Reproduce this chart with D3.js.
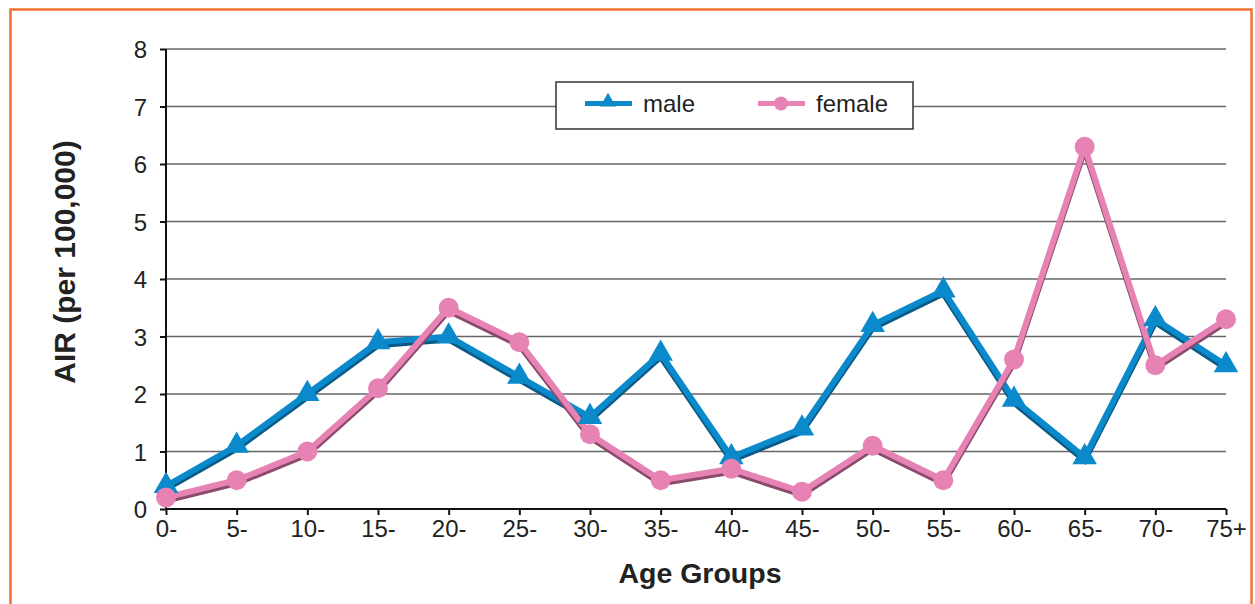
<!DOCTYPE html>
<html><head><meta charset="utf-8">
<script src="https://cdn.jsdelivr.net/npm/d3@7"></script>
<style>body{margin:0;background:#fff;}svg{display:block;font-family:"Liberation Sans",Arial,sans-serif;}</style>
</head><body><svg id="c" width="1255" height="604"></svg>
<script>
const categories = ["0-","5-","10-","15-","20-","25-","30-","35-","40-","45-","50-","55-","60-","65-","70-","75+"];
const male = [0.4,1.1,2.0,2.9,3.0,2.3,1.6,2.7,0.9,1.4,3.2,3.8,1.9,0.9,3.3,2.5];
const female = [0.2,0.5,1.0,2.1,3.5,2.9,1.3,0.5,0.7,0.3,1.1,0.5,2.6,6.3,2.5,3.3];
const yTicks = [0,1,2,3,4,5,6,7,8];
const seriesNames = ["male","female"];

const svg = d3.select("#c");
// frame
svg.append("rect").attr("x",10.5).attr("y",9.5).attr("width",1241).attr("height",620)
  .attr("fill","none").attr("stroke","#f07030").attr("stroke-width",2.5);

const m = {l:166, r:1226, t:49, b:509};
const x = d3.scalePoint().domain(categories).range([m.l, m.r]);
const y = d3.scaleLinear().domain([0,8]).range([m.b, m.t]);

// grid
svg.append("g").selectAll("line").data(yTicks.filter(d=>d>0)).join("line")
  .attr("x1",m.l).attr("x2",m.r).attr("y1",d=>y(d)).attr("y2",d=>y(d))
  .attr("stroke","#666").attr("stroke-width",1.3);

// axes
const ya = svg.append("g").attr("transform",`translate(${m.l},0)`)
  .call(d3.axisLeft(y).tickValues(yTicks).tickFormat(d3.format("d")).tickSize(6).tickPadding(13));
const xa = svg.append("g").attr("transform",`translate(0,${m.b})`)
  .call(d3.axisBottom(x).tickSize(6).tickPadding(5));
[ya,xa].forEach(a=>{
  a.attr("font-size",null).attr("font-family",null);
  a.selectAll(".domain").attr("stroke","#111").attr("stroke-width",2);
  a.selectAll(".tick line").attr("stroke","#111").attr("stroke-width",2);
  a.selectAll("text").style("font-size","24px").attr("fill","#222").style("font-family","Liberation Sans, Arial, sans-serif");
});
ya.selectAll("text").attr("dy","0.36em");
xa.select(".domain").attr("d",`M${m.l},0H${m.r}`);
ya.select(".domain").attr("d",`M0,${m.b}V${m.t}`);

const line = d3.line().x((d,i)=>x(categories[i])).y(d=>y(d));
const defs = [
  {data:male, color:"#0a8acb", shadow:"#0b5a85"},
  {data:female, color:"#e783b4", shadow:"#8a4a6c"}
];
defs.forEach(s=>{
  svg.append("path").datum(s.data).attr("d",line).attr("fill","none")
    .attr("stroke",s.shadow).attr("stroke-width",6).attr("stroke-linejoin","miter")
    .attr("transform","translate(0,3)");
  svg.append("path").datum(s.data).attr("d",line).attr("fill","none")
    .attr("stroke",s.color).attr("stroke-width",6).attr("stroke-linejoin","miter");
});
// markers
const tri = d3.symbol().type(d3.symbolTriangle).size(260);
svg.append("g").selectAll("path").data(male).join("path")
  .attr("d",tri).attr("fill","#0a8acb")
  .attr("transform",(d,i)=>`translate(${x(categories[i])},${y(d)})`);
svg.append("g").selectAll("circle").data(female).join("circle")
  .attr("cx",(d,i)=>x(categories[i])).attr("cy",d=>y(d)).attr("r",10).attr("fill","#e783b4");

// legend
const lg = svg.append("g");
lg.append("rect").attr("x",556).attr("y",82).attr("width",357).attr("height",47)
  .attr("fill","#fff").attr("stroke","#333").attr("stroke-width",1.5);
const items = [{name:seriesNames[0],c:"#0a8acb",m:"tri",x:585},{name:seriesNames[1],c:"#e783b4",m:"circ",x:758}];
items.forEach(it=>{
  lg.append("line").attr("x1",it.x).attr("x2",it.x+47).attr("y1",103.5).attr("y2",103.5)
    .attr("stroke",it.c).attr("stroke-width",5);
  if(it.m==="tri") lg.append("path").attr("d",d3.symbol().type(d3.symbolTriangle).size(110))
    .attr("transform",`translate(${it.x+23},102)`).attr("fill",it.c);
  else lg.append("circle").attr("cx",it.x+23).attr("cy",103.5).attr("r",7).attr("fill",it.c);
  lg.append("text").attr("x",it.x+58).attr("y",111.5).style("font-size","24px").attr("fill","#222").text(it.name);
});

// axis titles
svg.append("text").attr("x",700).attr("y",583).attr("text-anchor","middle")
  .style("font-size","28.5px").attr("font-weight","bold").attr("fill","#222").text("Age Groups");
svg.append("text").attr("transform","translate(75,262) rotate(-90)").attr("text-anchor","middle")
  .style("font-size","30px").attr("font-weight","bold").attr("fill","#222").text("AIR (per 100,000)");
</script></body></html>
